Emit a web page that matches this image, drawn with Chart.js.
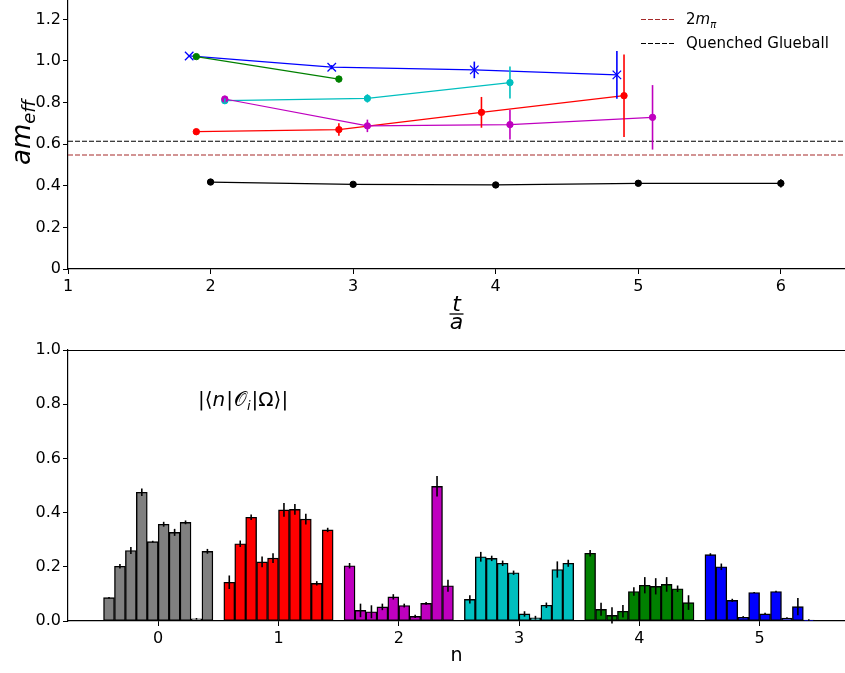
<!DOCTYPE html>
<html>
<head>
<meta charset="utf-8">
<script src="https://cdn.jsdelivr.net/npm/chart.js@4/dist/chart.umd.min.js"></script>
<style>
body { margin: 0; background: #fff; }
#wrap { position: relative; width: 845px; height: 673px; }
canvas { position: absolute; left: 0; }
</style>
</head>
<body>
<div id="wrap">
  <canvas id="massChart" width="845" height="340" style="top:0"></canvas>
  <canvas id="overlapChart" width="845" height="333" style="top:340px"></canvas>
</div>
<script>
"use strict";

// ---- top panel: effective masses vs t/a ----
var blueT = [1.85, 2.85, 3.85, 4.85];
var blueM = [1.024, 0.970, 0.957, 0.933];
var blueErr = [0.005, 0.010, 0.040, 0.115];

var greenT = [1.9, 2.9];
var greenM = [1.021, 0.913];
var greenErr = [0.010, 0.015];

var cyanT = [2.1, 3.1, 4.1];
var cyanM = [0.809, 0.820, 0.896];
var cyanErr = [0.010, 0.020, 0.077];

var magentaT = [2.1, 3.1, 4.1, 5.1];
var magentaM = [0.817, 0.688, 0.694, 0.729];
var magentaErr = [0.015, 0.030, 0.071, 0.155];

var redT = [1.9, 2.9, 3.9, 4.9];
var redM = [0.660, 0.670, 0.753, 0.833];
var redErr = [0.010, 0.030, 0.074, 0.198];

var blackT = [2, 3, 4, 5, 6];
var blackM = [0.418, 0.407, 0.404, 0.412, 0.412];
var blackErr = [0.005, 0.004, 0.004, 0.006, 0.020];

var twoMpi = 0.548;
var quenchedGlueball = 0.614;

var tTicks = [1, 2, 3, 4, 5, 6];
var massTicks = [0, 0.2, 0.4, 0.6, 0.8, 1.0, 1.2];

// ---- bottom panel: overlaps |<n|O_i|Omega>| ----
var levels = [0, 1, 2, 3, 4, 5];
var overlapTicks = [0, 0.2, 0.4, 0.6, 0.8, 1.0];

var grayAmp = [0.086, 0.202, 0.260, 0.475, 0.293, 0.357, 0.327, 0.364, 0.008, 0.257];
var grayErr = [0.003, 0.008, 0.013, 0.014, 0.003, 0.009, 0.013, 0.007, 0.003, 0.009];
var redAmp = [0.143, 0.285, 0.383, 0.218, 0.232, 0.410, 0.412, 0.376, 0.139, 0.336];
var redErrB = [0.025, 0.012, 0.010, 0.020, 0.018, 0.025, 0.020, 0.020, 0.008, 0.008];
var magentaAmp = [0.204, 0.039, 0.034, 0.052, 0.089, 0.057, 0.017, 0.065, 0.497, 0.130];
var magentaErrB = [0.010, 0.025, 0.024, 0.012, 0.010, 0.007, 0.006, 0.005, 0.038, 0.022];
var cyanAmp = [0.080, 0.237, 0.231, 0.213, 0.178, 0.026, 0.012, 0.058, 0.190, 0.213];
var cyanErrB = [0.015, 0.018, 0.010, 0.010, 0.008, 0.010, 0.007, 0.010, 0.030, 0.013];
var greenAmp = [0.250, 0.043, 0.021, 0.036, 0.109, 0.132, 0.128, 0.135, 0.119, 0.068];
var greenErrB = [0.012, 0.024, 0.030, 0.023, 0.016, 0.030, 0.030, 0.027, 0.012, 0.027];
var blueAmp = [0.245, 0.200, 0.076, 0.014, 0.105, 0.026, 0.109, 0.011, 0.053, 0.003];
var blueErrB = [0.005, 0.012, 0.006, 0.004, 0.002, 0.004, 0.003, 0.003, 0.032, 0.003];

var FONT = "'DejaVu Sans', sans-serif";
var barStep = 1 / 11;

function points(xs, ys) {
    return xs.map(function(x, i) { return {x: x, y: ys[i]}; });
}

function series(xs, ys, errs, color, style, radius) {
    return {
        data: points(xs, ys),
        errors: errs,
        borderColor: color,
        backgroundColor: color,
        borderWidth: 1.2,
        pointStyle: style,
        pointRadius: radius,
        pointBorderWidth: style === 'crossRot' ? 1.3 : 1,
        tension: 0
    };
}

function hline(y, color) {
    return {
        data: points([1, 6.45], [y, y]),
        borderColor: color,
        borderWidth: 1.2,
        borderDash: [5, 2],
        pointRadius: 0
    };
}

var errorBars = {
    id: 'errorBars',
    afterDatasetsDraw: function(chart) {
        var ctx = chart.ctx;
        var xs = chart.scales.x, ys = chart.scales.y;
        ctx.save();
        ctx.lineWidth = 1.6;
        chart.data.datasets.forEach(function(ds) {
            if (!ds.errors) return;
            ctx.strokeStyle = ds.errorColor || ds.borderColor;
            ds.data.forEach(function(p, j) {
                var e = ds.errors[j];
                var px = xs.getPixelForValue(p.x);
                ctx.beginPath();
                ctx.moveTo(px, ys.getPixelForValue(p.y - e));
                ctx.lineTo(px, ys.getPixelForValue(p.y + e));
                ctx.stroke();
            });
        });
        ctx.restore();
    }
};

// fixed-size axes, no extra padding from edge labels
function fixSize(w, h) {
    return function(s) {
        if (w) s.width = w;
        if (h) s.height = h;
        s.paddingTop = 0;
        s.paddingBottom = 0;
        s.paddingLeft = 0;
        s.paddingRight = 0;
    };
}

function axisBase(ticks, fmt) {
    return {
        type: 'linear',
        offset: false,
        afterBuildTicks: function(s) {
            s.ticks = ticks.map(function(v) { return {value: v}; });
        },
        grid: { drawOnChartArea: false, drawTicks: true, tickLength: 5, color: '#000', offset: false },
        border: { display: true, color: '#000', width: 1.2 },
        ticks: { color: '#000', font: { family: FONT, size: 16 }, padding: 2, maxRotation: 0, autoSkip: false, callback: fmt }
    };
}

// ---------- top chart ----------
var massLabels = {
    id: 'massLabels',
    afterDraw: function(chart) {
        var ctx = chart.ctx;
        var area = chart.chartArea;
        ctx.save();
        ctx.fillStyle = '#000';

        // y title: am_eff
        ctx.translate(30, 165);
        ctx.rotate(-Math.PI / 2);
        ctx.textBaseline = 'alphabetic';
        ctx.font = "italic 26px " + FONT;
        ctx.fillText('am', 0, 0);
        var w = ctx.measureText('am').width;
        ctx.font = "italic 18px " + FONT;
        ctx.fillText('eff', w, 5);
        ctx.setTransform(1, 0, 0, 1, 0, 0);

        // x title: t over a
        var cx = (area.left + area.right) / 2;
        ctx.textAlign = 'center';
        ctx.font = "italic 22px " + FONT;
        ctx.fillText('t', cx, 311);
        ctx.fillText('a', cx, 329);
        ctx.lineWidth = 1.3;
        ctx.beginPath();
        ctx.moveTo(cx - 7, 314);
        ctx.lineTo(cx + 7, 314);
        ctx.stroke();

        // legend
        ctx.textAlign = 'left';
        ctx.textBaseline = 'middle';
        ctx.lineWidth = 1.2;
        ctx.setLineDash([5, 2]);
        ctx.strokeStyle = '#a52a2a';
        ctx.beginPath(); ctx.moveTo(641, 19.5); ctx.lineTo(676, 19.5); ctx.stroke();
        ctx.strokeStyle = '#000';
        ctx.beginPath(); ctx.moveTo(641, 43.5); ctx.lineTo(676, 43.5); ctx.stroke();
        ctx.setLineDash([]);

        ctx.font = "15px " + FONT;
        ctx.fillText('2', 686, 20);
        var x = 686 + ctx.measureText('2').width;
        ctx.font = "italic 15px " + FONT;
        ctx.fillText('m', x, 20);
        x += ctx.measureText('m').width;
        ctx.font = "italic 10px " + FONT;
        ctx.fillText('π', x, 25);
        ctx.font = "15px " + FONT;
        ctx.fillText('Quenched Glueball', 686, 44);
        ctx.restore();
    }
};

var xTop = axisBase(tTicks, function(v) { return String(v); });
xTop.min = 1;
xTop.max = 6.45;
xTop.afterFit = fixSize(0, 71);
xTop.ticks.padding = 3;

var yTop = axisBase(massTicks, function(v) { return v === 0 ? '0' : v.toFixed(1); });
yTop.min = 0;
yTop.max = 1.293;
yTop.afterFit = fixSize(68, 0);

new Chart(document.getElementById('massChart').getContext('2d'), {
    type: 'line',
    data: {
        datasets: [
            hline(twoMpi, '#a52a2a'),
            hline(quenchedGlueball, '#000000'),
            series(blackT, blackM, blackErr, '#000000', 'circle', 3.2),
            series(magentaT, magentaM, magentaErr, '#bf00bf', 'circle', 3.2),
            series(redT, redM, redErr, '#ff0000', 'circle', 3.2),
            series(cyanT, cyanM, cyanErr, '#00bfbf', 'circle', 3.2),
            series(greenT, greenM, greenErr, '#008000', 'circle', 3.2),
            series(blueT, blueM, blueErr, '#0000ff', 'crossRot', 6)
        ]
    },
    options: {
        responsive: false,
        animation: false,
        devicePixelRatio: 1,
        layout: { padding: 0, autoPadding: false },
        plugins: { legend: { display: false }, tooltip: { enabled: false } },
        scales: { x: xTop, y: yTop }
    },
    plugins: [errorBars, massLabels]
});

// ---------- bottom chart ----------
var groupColors = ['#808080', '#ff0000', '#bf00bf', '#00bfbf', '#008000', '#0000ff'];
var groupAmps = [grayAmp, redAmp, magentaAmp, cyanAmp, greenAmp, blueAmp];
var groupErrs = [grayErr, redErrB, magentaErrB, cyanErrB, greenErrB, blueErrB];

var overlapLabels = {
    id: 'overlapLabels',
    afterDraw: function(chart) {
        var ctx = chart.ctx;
        var area = chart.chartArea;
        ctx.save();
        ctx.strokeStyle = '#000';
        ctx.lineWidth = 1.2;
        ctx.beginPath();
        ctx.moveTo(area.left, area.top + 0.5);
        ctx.lineTo(area.right, area.top + 0.5);
        ctx.stroke();

        ctx.fillStyle = '#000';
        ctx.textAlign = 'center';
        ctx.textBaseline = 'middle';
        ctx.font = "19px " + FONT;
        ctx.fillText('n', (area.left + area.right) / 2, 316);

        // |<n|O_i|Omega>|
        ctx.textAlign = 'left';
        ctx.textBaseline = 'alphabetic';
        var y = 66, x = 198;
        var parts = [
            ['|⟨', '20px ', 0, 0], ['n', 'italic 20px ', 0, 1], ['|', '20px ', 0, 1],
            ['𝒪', '20px ', 0, 0], ['i', 'italic 13px ', 4, 1], ['|Ω⟩|', '20px ', 0, 0]
        ];
        parts.forEach(function(p) {
            ctx.font = p[1] + FONT;
            ctx.fillText(p[0], x, y + p[2]);
            x += ctx.measureText(p[0]).width + p[3];
        });
        ctx.restore();
    }
};

var xBot = axisBase(levels, function(v) { return String(v); });
xBot.min = -0.75;
xBot.max = 5.71;
xBot.afterFit = fixSize(0, 52);
xBot.ticks.padding = 3;

var yBot = axisBase(overlapTicks, function(v) { return v.toFixed(1); });
yBot.min = 0;
yBot.max = 1;
yBot.afterFit = fixSize(68, 0);

new Chart(document.getElementById('overlapChart').getContext('2d'), {
    type: 'bar',
    data: {
        datasets: groupAmps.map(function(amps, g) {
            return {
                data: amps.map(function(v, i) {
                    return {x: levels[g] + (i - 4.5) * barStep, y: v};
                }),
                errors: groupErrs[g],
                errorColor: '#000',
                backgroundColor: groupColors[g],
                borderColor: '#000',
                borderWidth: 1.4,
                borderSkipped: false,
                grouped: false,
                barPercentage: 1,
                categoryPercentage: 1
            };
        })
    },
    options: {
        responsive: false,
        animation: false,
        devicePixelRatio: 1,
        layout: { padding: { top: 10, left: 0, right: 0, bottom: 0 }, autoPadding: false },
        plugins: { legend: { display: false }, tooltip: { enabled: false } },
        scales: { x: xBot, y: yBot }
    },
    plugins: [errorBars, overlapLabels]
});
</script>
</body>
</html>
